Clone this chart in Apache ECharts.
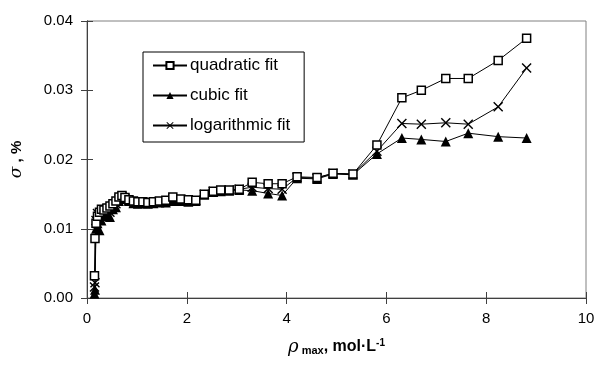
<!DOCTYPE html>
<html>
<head>
<meta charset="utf-8">
<script src="https://cdn.jsdelivr.net/npm/echarts@6/dist/echarts.min.js"></script>
<style>html,body{margin:0;padding:0;background:#fff}#c{width:598px;height:365px}</style>
</head>
<body>
<div id="c"></div>
<script>
const rhoMax = [0.15, 0.16, 0.18, 0.21, 0.25, 0.29, 0.34, 0.40, 0.46, 0.52, 0.58, 0.64, 0.70, 0.76, 0.84, 0.93, 1.02, 1.12, 1.22, 1.33, 1.45, 1.58, 1.72, 1.88, 2.03, 2.18, 2.35, 2.53, 2.68, 2.85, 3.05, 3.31, 3.63, 3.91, 4.21, 4.61, 4.93, 5.33, 5.81, 6.31, 6.70, 7.19, 7.64, 8.24, 8.81];
const quadraticFit = [0.0032, 0.0086, 0.0108, 0.0118, 0.0124, 0.0128, 0.0127, 0.0130, 0.0133, 0.0136, 0.0140, 0.0146, 0.0148, 0.0145, 0.0142, 0.0140, 0.0139, 0.0139, 0.0138, 0.0139, 0.0140, 0.0141, 0.0146, 0.0143, 0.0142, 0.0141, 0.0150, 0.0154, 0.0156, 0.0156, 0.0157, 0.0167, 0.0165, 0.0165, 0.0175, 0.0174, 0.0180, 0.0179, 0.0221, 0.0289, 0.0300, 0.0317, 0.0317, 0.0343, 0.0375];
const cubicFit = [0.0006, 0.0012, 0.0100, 0.0108, 0.0098, 0.0112, 0.0118, 0.0122, 0.0117, 0.0128, 0.0131, 0.0140, 0.0145, 0.0143, 0.0140, 0.0137, 0.0136, 0.0137, 0.0136, 0.0137, 0.0138, 0.0138, 0.0140, 0.0140, 0.0139, 0.0140, 0.0149, 0.0153, 0.0154, 0.0155, 0.0156, 0.0155, 0.0151, 0.0148, 0.0173, 0.0172, 0.0179, 0.0178, 0.0208, 0.0231, 0.0229, 0.0226, 0.0238, 0.0233, 0.0231];
const logarithmicFit = [0.0016, 0.0022, 0.0112, 0.0122, 0.0114, 0.0124, 0.0125, 0.0129, 0.0124, 0.0133, 0.0136, 0.0143, 0.0147, 0.0144, 0.0141, 0.0139, 0.0138, 0.0138, 0.0137, 0.0138, 0.0139, 0.0139, 0.0143, 0.0142, 0.0141, 0.0141, 0.0150, 0.0154, 0.0155, 0.0156, 0.0157, 0.0160, 0.0158, 0.0157, 0.0174, 0.0173, 0.0180, 0.0179, 0.0212, 0.0252, 0.0251, 0.0253, 0.0251, 0.0276, 0.0332];
const seriesNames = ['quadratic fit', 'cubic fit', 'logarithmic fit'];
const xTicks = [0, 2, 4, 6, 8, 10];
const yTicks = [0.00, 0.01, 0.02, 0.03, 0.04];

const pair = (ys) => rhoMax.map((x, i) => [x, ys[i]]);
const FONT = '"Liberation Sans", Arial, sans-serif';
const crossPath = 'path://M0,1L1,0L5,4L9,0L10,1L6,5L10,9L9,10L5,6L1,10L0,9L4,5Z';

const chart = echarts.init(document.getElementById('c'), null, {renderer: 'canvas'});
const axisCommon = {
  axisLine: {show: true, onZero: false, lineStyle: {color: '#404040', width: 1}},
  splitLine: {show: false}
};
chart.setOption({
  animation: false,
  backgroundColor: '#fff',
  grid: {left: 87, right: 12, top: 21, bottom: 67, show: true, borderColor: '#808080', borderWidth: 1, backgroundColor: 'transparent'},
  legend: {
    orient: 'vertical', left: 143, top: 52,
    padding: [5, 14, 8, 9], itemGap: 13, itemWidth: 34, itemHeight: 9,
    borderColor: '#000', borderWidth: 1, backgroundColor: '#fff',
    textStyle: {fontFamily: FONT, fontSize: 17, color: '#000', padding: [0, 0, 0, -2]},
    data: seriesNames
  },
  xAxis: [
    Object.assign({
      type: 'value', min: xTicks[0], max: xTicks[xTicks.length - 1], interval: 2,
      axisTick: {show: true, length: 6, lineStyle: {color: '#404040'}},
      axisLabel: {fontFamily: FONT, fontSize: 15, color: '#000', margin: 13},
      name: '{rho|ρ}{sub| max}{b|, mol·L}{sup|-1}', nameLocation: 'middle', nameGap: 40,
      nameTextStyle: {rich: {
        rho: {fontFamily: '"DejaVu Serif", serif', fontStyle: 'italic', fontSize: 18, color: '#000'},
        sub: {fontFamily: FONT, fontWeight: 'bold', fontSize: 11, color: '#000', verticalAlign: 'bottom', padding: [6, 0, 0, 0]},
        b: {fontFamily: FONT, fontWeight: 'bold', fontSize: 16, color: '#000'},
        sup: {fontFamily: FONT, fontWeight: 'bold', fontSize: 10, color: '#000', verticalAlign: 'top', padding: [0, 0, 8, 0]}
      }}
    }, axisCommon),
    Object.assign({
      type: 'value', min: 0, max: 10, interval: 2, position: 'bottom',
      axisTick: {show: true, inside: true, length: 6, lineStyle: {color: '#404040'}},
      axisLabel: {show: false}
    }, axisCommon)
  ],
  yAxis: [
    Object.assign({
      type: 'value', min: yTicks[0], max: yTicks[yTicks.length - 1], interval: 0.01,
      axisTick: {show: true, length: 6, lineStyle: {color: '#404040'}},
      axisLabel: {fontFamily: FONT, fontSize: 15, color: '#000', margin: 14, formatter: v => v.toFixed(2)},
      name: '{s|σ}{b| , %}', nameLocation: 'middle', nameGap: 62, nameRotate: 90,
      nameTextStyle: {rich: {
        s: {fontFamily: '"DejaVu Serif", serif', fontStyle: 'italic', fontSize: 17, color: '#000'},
        b: {fontFamily: FONT, fontWeight: 'bold', fontSize: 15, color: '#000'}
      }}
    }, axisCommon),
    Object.assign({
      type: 'value', min: 0, max: 0.04, interval: 0.01, position: 'left',
      axisTick: {show: true, inside: true, length: 6, lineStyle: {color: '#404040'}},
      axisLabel: {show: false}
    }, axisCommon)
  ],
  series: [
    {
      name: seriesNames[2], type: 'line', data: pair(logarithmicFit), z: 3,
      symbol: crossPath, symbolSize: 10, showAllSymbol: true,
      lineStyle: {color: '#000', width: 1},
      itemStyle: {color: '#000', borderWidth: 0}
    },
    {
      name: seriesNames[1], type: 'line', data: pair(cubicFit), z: 4,
      symbol: 'triangle', symbolSize: 10, showAllSymbol: true,
      lineStyle: {color: '#000', width: 1},
      itemStyle: {color: '#000', borderWidth: 0}
    },
    {
      name: seriesNames[0], type: 'line', data: pair(quadraticFit), z: 5,
      symbol: 'rect', symbolSize: 8, showAllSymbol: true,
      lineStyle: {color: '#000', width: 1},
      itemStyle: {color: '#fff', borderColor: '#000', borderWidth: 1.5}
    }
  ]
});
</script>
</body>
</html>
